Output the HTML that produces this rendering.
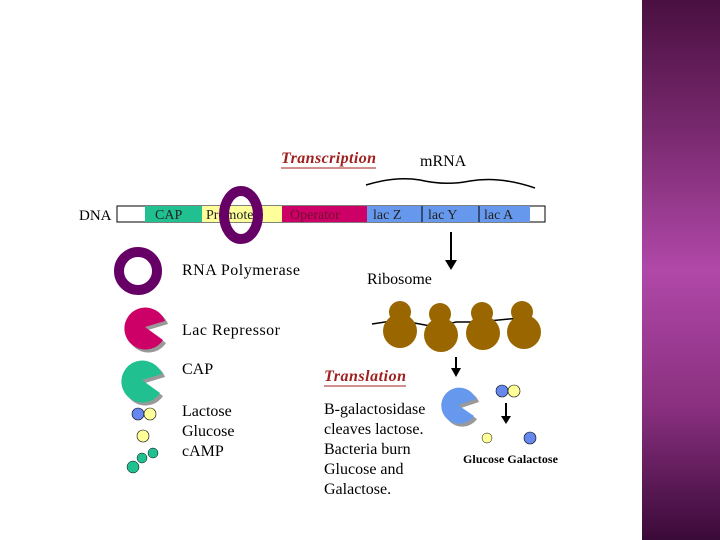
<!DOCTYPE html>
<html><head><style>
body{margin:0;width:720px;height:540px;overflow:hidden;background:#fff;font-family:"Liberation Serif",serif}
.p{position:absolute;left:642px;top:0;width:78px;height:540px;background:linear-gradient(#4a1040 0%,#7a2a70 25%,#b048a8 50%,#8a3080 75%,#3a0a38 100%)}
</style></head><body>
<div class="p"></div>
<svg width="720" height="540" style="position:absolute;left:0;top:0" font-family="Liberation Serif, serif">
<text x="281" y="163" font-size="16" font-weight="bold" font-style="italic" fill="#a02020" textLength="95">Transcription</text>
<line x1="281" y1="168" x2="376" y2="168" stroke="#a02020"/>
<text x="420" y="166" font-size="16">mRNA</text>
<path d="M366 185 Q395 176 420 180 Q445 186 470 181 Q500 176 535 188" stroke="#000" fill="none" stroke-width="1.5"/>
<text x="79" y="220" font-size="15">DNA</text>
<rect x="117" y="206" width="428" height="16" fill="#fff" stroke="#000"/>
<rect x="145" y="206" width="57" height="16" fill="#20c090"/>
<rect x="202" y="206" width="80" height="16" fill="#ffff99"/>
<rect x="282" y="206" width="85" height="16" fill="#cc0066"/>
<rect x="367" y="206" width="163" height="16" fill="#6699ee"/>
<line x1="422" y1="206" x2="422" y2="222" stroke="#000"/><line x1="479" y1="206" x2="479" y2="222" stroke="#000"/>
<g font-size="14" fill="#222"><text x="155" y="219">CAP</text><text x="206" y="219">Promoter</text><text x="290" y="219" fill="#701030">Operator</text><text x="373" y="219">lac Z</text><text x="428" y="219">lac Y</text><text x="484" y="219">lac A</text></g>
<ellipse cx="241" cy="215" rx="17" ry="24" fill="none" stroke="#660066" stroke-width="10"/>
<circle cx="138" cy="271" r="19" fill="none" stroke="#660066" stroke-width="10"/>
<line x1="451" y1="232" x2="451" y2="262" stroke="#000" stroke-width="2"/><path d="M445 260 L457 260 L451 270Z"/>
<text x="367" y="284" font-size="16">Ribosome</text>
<text x="182" y="275" font-size="16" textLength="118">RNA Polymerase</text>
<text x="182" y="335" font-size="16" textLength="98">Lac Repressor</text>
<text x="182" y="374" font-size="16">CAP</text>
<g font-size="16"><text x="182" y="416">Lactose</text><text x="182" y="436">Glucose</text><text x="182" y="456">cAMP</text></g>
<g transform="translate(145,327)"><path d="M3 3 L23 -3 A21 21 0 1 0 21 16 Z" fill="#999"/><path d="M0 0 L20 -6 A21 21 0 1 0 18 13 Z" fill="#cc0066"/></g>
<g transform="translate(142,380)"><path d="M3 3 L23 -3 A21 21 0 1 0 21 16 Z" fill="#999"/><path d="M0 0 L20 -6 A21 21 0 1 0 18 13 Z" fill="#20c090"/></g>
<g transform="translate(458,405)"><path d="M3 3 L21 -3 A18 18 0 1 0 19 14 Z" fill="#999"/><path d="M0 0 L18 -6 A18 18 0 1 0 16 11 Z" fill="#6699ee"/></g>
<circle cx="138" cy="414" r="6" fill="#6688ee" stroke="#000" stroke-width=".6"/><circle cx="150" cy="414" r="6" fill="#ffff99" stroke="#000" stroke-width=".6"/>
<circle cx="143" cy="436" r="6" fill="#ffff99" stroke="#000" stroke-width=".6"/>
<g fill="#20c090" stroke="#000" stroke-width=".5"><circle cx="133" cy="467" r="6"/><circle cx="142" cy="458" r="5"/><circle cx="153" cy="453" r="5"/></g>
<circle cx="502" cy="391" r="6" fill="#6688ee" stroke="#000" stroke-width=".6"/><circle cx="514" cy="391" r="6" fill="#ffff99" stroke="#000" stroke-width=".6"/>
<circle cx="487" cy="438" r="5" fill="#ffff99" stroke="#000" stroke-width=".5"/><circle cx="530" cy="438" r="6" fill="#6688ee" stroke="#000" stroke-width=".6"/>
<line x1="506" y1="403" x2="506" y2="418" stroke="#000" stroke-width="2"/><path d="M501 416 L511 416 L506 424Z"/>
<line x1="456" y1="357" x2="456" y2="370" stroke="#000" stroke-width="2"/><path d="M451 368 L461 368 L456 377Z"/>
<text x="463" y="463" font-size="12" font-weight="bold" textLength="95">Glucose Galactose</text>
<path d="M372 324 L398 320 L436 327 L456 322 L478 322 L520 318" stroke="#000" fill="none" stroke-width="1.5"/>
<g fill="#996600"><circle cx="400" cy="312" r="11"/><circle cx="400" cy="331" r="17"/><circle cx="440" cy="314" r="11"/><circle cx="441" cy="335" r="17"/><circle cx="482" cy="313" r="11"/><circle cx="483" cy="333" r="17"/><circle cx="522" cy="312" r="11"/><circle cx="524" cy="332" r="17"/></g>
<text x="324" y="381" font-size="16" font-weight="bold" font-style="italic" fill="#a02020" textLength="82">Translation</text>
<line x1="324" y1="386" x2="406" y2="386" stroke="#a02020"/>
<g font-size="16"><text x="324" y="414">B-galactosidase</text><text x="324" y="434">cleaves lactose.</text><text x="324" y="454">Bacteria burn</text><text x="324" y="474">Glucose and</text><text x="324" y="494">Galactose.</text></g>
</svg>
</body></html>
